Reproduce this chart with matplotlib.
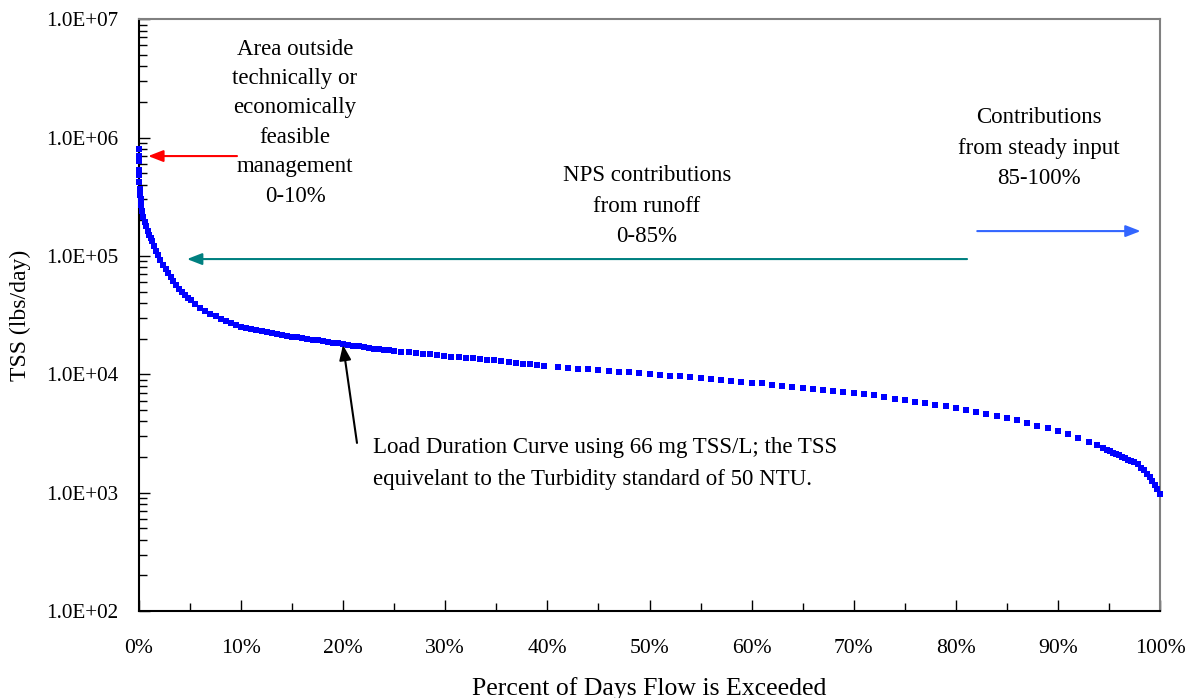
import matplotlib
matplotlib.use('Agg')
import matplotlib.pyplot as plt
from matplotlib.ticker import LogLocator, FuncFormatter, MultipleLocator, NullFormatter

plt.rcParams['font.family'] = ['Liberation Serif', 'DejaVu Serif']

# percent of days flow is exceeded
pct = [0, 0, 0, 0, 0.01, 0.03, 0.06, 0.1, 0.15, 0.2, 0.3, 0.4, 0.55, 0.7, 0.85,
       1.0, 1.15, 1.3, 1.5, 1.7, 1.9, 2.1, 2.35, 2.6, 2.85, 3.1, 3.35, 3.6, 3.9,
       4.2, 4.5, 4.8,
       5.1, 5.5, 6.0, 6.5, 7.0, 7.5, 8.0, 8.5, 9.0, 9.5, 10.0, 10.5, 11.0, 11.5,
       12.0, 12.5, 13.0, 13.5, 14.0, 14.5, 15.0, 15.5, 16.0, 16.5, 17.0, 17.5,
       18.0, 18.5, 19.0, 19.5, 20.0, 20.5, 21.0, 21.5, 22.0, 22.5, 23.0, 23.5,
       24.0, 24.5, 25.0,
       25.7, 26.4, 27.1, 27.8, 28.5, 29.2, 29.9, 30.6, 31.3, 32.0, 32.7, 33.4,
       34.1, 34.8, 35.5, 36.2, 36.9, 37.6, 38.3, 39.0, 39.7,
       41, 42, 43, 44, 45, 46, 47, 48, 49, 50, 51, 52, 53, 54, 55, 56, 57, 58,
       59, 60, 61, 62, 63, 64, 65, 66, 67, 68, 69, 70, 71, 72, 73, 74, 75, 76,
       77, 78, 79, 80, 81, 82, 83, 84, 85, 86, 87, 88, 89, 90, 91, 92, 93,
       93.8, 94.4,
       94.8, 95.1, 95.4, 95.7, 96.0, 96.3, 96.6, 96.9, 97.2, 97.5, 97.8, 98.1,
       98.4, 98.7, 99.0, 99.25, 99.5, 99.75, 100]

# TSS load (lbs/day)
tss = [800000, 700000, 630000, 530000, 480000, 420000, 370000, 330000, 300000,
       270000, 240000, 215000, 195000, 178000, 163000, 151000, 142000, 133000,
       122000, 111000, 101000, 92000, 84000, 77000, 71000, 66000, 61000, 57000,
       53000, 49500, 46500, 44000,
       42000, 39500, 36500, 34300, 32400, 30800, 29300, 28000, 26900, 26000,
       25200, 24600, 24000, 23500, 23000, 22600, 22200, 21800, 21400, 21100,
       20800, 20500, 20200, 19900, 19600, 19300, 19000, 18700, 18400, 18200,
       17900, 17700, 17400, 17200, 16900, 16700, 16500, 16300, 16100, 15900,
       15700,
       15500, 15300, 15100, 14900, 14700, 14500, 14300, 14100, 13900, 13800,
       13600, 13400, 13200, 13100, 12900, 12700, 12500, 12300, 12100, 11900,
       11700,
       11500, 11330, 11160, 11000, 10830, 10670, 10510, 10350, 10200, 10050,
       9900, 9750, 9580, 9420, 9260, 9100, 8950, 8800, 8650, 8510, 8360, 8190,
       8030, 7870, 7710, 7560, 7410, 7260, 7120, 6980, 6830, 6620, 6420, 6230,
       6050, 5870, 5690, 5520, 5360, 5180, 4980, 4790, 4610, 4440, 4270, 4100,
       3890, 3690, 3500, 3320, 3150, 2900, 2670, 2510, 2400,
       2300, 2240, 2180, 2120, 2070, 2010, 1950, 1900, 1850, 1800, 1730, 1630,
       1540, 1450, 1360, 1260, 1160, 1070, 980]

fig = plt.figure(figsize=(11.9, 6.98), dpi=100)
ax = fig.add_axes([0.1168, 0.1246, 0.858, 0.848])

ax.plot(pct, tss, 's', color='#0000FF', markersize=5, markeredgewidth=0, clip_on=False, zorder=3)

ax.set_yscale('log')
ax.set_ylim(1e2, 1e7)
ax.set_xlim(0, 100)

ax.yaxis.set_major_locator(LogLocator(base=10, numticks=10))
ax.yaxis.set_minor_locator(LogLocator(base=10, subs=range(2, 10), numticks=10))
ax.yaxis.set_minor_formatter(NullFormatter())
ax.yaxis.set_major_formatter(FuncFormatter(lambda v, p: '%.1E' % v))
ax.xaxis.set_major_locator(MultipleLocator(10))
ax.xaxis.set_minor_locator(MultipleLocator(5))
ax.xaxis.set_major_formatter(FuncFormatter(lambda v, p: '%d%%' % round(v)))

ax.tick_params(which='both', direction='in', top=False, right=False)
ax.tick_params(which='major', length=8, width=1)
ax.tick_params(which='minor', length=6, width=1)
ax.tick_params(axis='y', pad=15, labelsize=15.2)
ax.tick_params(axis='x', pad=20, labelsize=15.6)

for s in ['left', 'bottom']:
    ax.spines[s].set_color('black')
    ax.spines[s].set_linewidth(1.5)
for s in ['top', 'right']:
    ax.spines[s].set_color('#808080')
    ax.spines[s].set_linewidth(1.5)

ax.set_ylabel('TSS (lbs/day)', fontsize=17, labelpad=11)
ax.set_xlabel('Percent of Days Flow is Exceeded', fontsize=18.5, labelpad=14)

fs = 16.5
ax.text(15.28, 10**6.125, 'Area outside\ntechnically or\neconomically\nfeasible\nmanagement\n0-10%',
        ha='center', va='center', fontsize=fs, linespacing=1.53)
ax.text(49.75, 10**5.42, 'NPS contributions\nfrom runoff\n0-85%',
        ha='center', va='center', fontsize=fs, linespacing=1.58)
ax.text(88.1, 10**5.91, 'Contributions\nfrom steady input\n85-100%',
        ha='center', va='center', fontsize=fs, linespacing=1.58)
ax.text(22.92, 10**3.246, 'Load Duration Curve using 66 mg TSS/L; the TSS\nequivelant to the Turbidity standard of 50 NTU.',
        ha='left', va='center', fontsize=fs, linespacing=1.68)

def arrow(x0, y0, x1, y1, color):
    ax.annotate('', xy=(x1, y1), xytext=(x0, y0),
                arrowprops=dict(arrowstyle='-|>,head_length=0.9,head_width=0.35',
                                color=color, lw=1.5, shrinkA=0, shrinkB=0))

arrow(9.6, 6.97e5, 0.9, 6.97e5, '#FF0000')
arrow(81.1, 9.4e4, 4.7, 9.4e4, '#008080')
arrow(82.1, 1.62e5, 98.1, 1.62e5, '#3366FF')
arrow(21.35, 2.63e3, 19.98, 1.77e4, '#000000')

plt.savefig('out.png', dpi=100)
